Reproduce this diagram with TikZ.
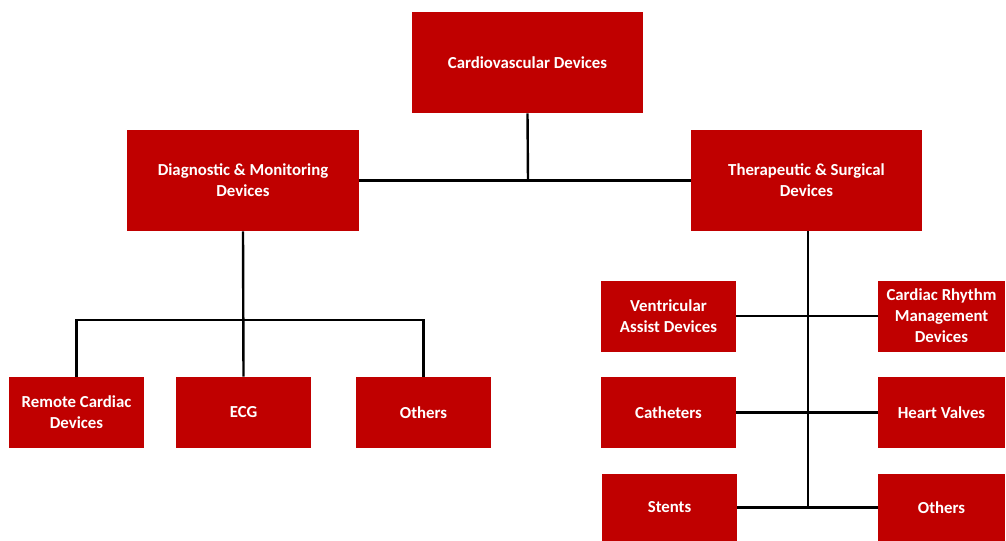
\documentclass[tikz,border=0pt]{standalone}
\usepackage{fontspec}
\setmainfont{Carlito}
\begin{document}
\begin{tikzpicture}[x=0.75pt,y=-0.75pt,
  box/.style={fill=boxred,draw=none,inner sep=0pt,text=white,align=center,
    font=\fontsize{12.6}{15.7}\selectfont\bfseries},
  conn/.style={draw=black,line width=1.8pt}]
\definecolor{boxred}{HTML}{C00000}
\useasboundingbox (0,0) rectangle (1006,540);
\fill[white] (0,0) rectangle (1006,540);
% top level
\node[box,minimum width=231*0.75pt,minimum height=101*0.75pt] (cv) at (527.5,62.5) {Cardiovascular Devices};
\node[box,minimum width=232*0.75pt,minimum height=101*0.75pt] (dm) at (243,180.5) {Diagnostic \& Monitoring\\Devices};
\node[box,minimum width=231*0.75pt,minimum height=101*0.75pt] (ts) at (806.5,180.5) {Therapeutic \& Surgical\\Devices};
% left children
\node[box,minimum width=135*0.75pt,minimum height=71*0.75pt] (rc) at (76.5,412.5) {Remote Cardiac\\Devices};
\node[box,minimum width=135*0.75pt,minimum height=71*0.75pt] (ecg) at (243.5,412.5) {ECG};
\node[box,minimum width=135*0.75pt,minimum height=71*0.75pt] (ol) at (423.5,412.5) {Others};
% right children
\node[box,minimum width=135*0.75pt,minimum height=71*0.75pt] (vad) at (668.5,316) {Ventricular\\Assist Devices};
\node[box,minimum width=127*0.75pt,minimum height=71*0.75pt] (crm) at (941.5,316) {Cardiac Rhythm\\Management\\Devices};
\node[box,minimum width=135*0.75pt,minimum height=71*0.75pt] (cat) at (668.5,412.5) {Catheters};
\node[box,minimum width=127*0.75pt,minimum height=71*0.75pt] (hv) at (941.5,412.5) {Heart Valves};
\node[box,minimum width=135*0.75pt,minimum height=67*0.75pt] (st) at (669.5,507.5) {Stents};
\node[box,minimum width=127*0.75pt,minimum height=67*0.75pt] (or) at (941.5,507.5) {Others};
% coordinates
\coordinate (j1) at (528,181);
\coordinate (lj) at (243,320);
\coordinate (rjb) at (808,509);
% connectors
\draw[conn] (cv.south) -- (j1);
\draw[conn] (dm.east) -- (ts.west);
\draw[conn] (dm.south) -- (ecg.north);
\draw[conn] (rc.north) |- (lj) -| (ol.north);
\draw[conn] (ts.south -| rjb) -- (rjb);
\draw[conn] (vad.east) -- (crm.west);
\draw[conn] (cat.east) -- (hv.west);
\draw[conn] (st.east) -- (or.west);
\end{tikzpicture}
\end{document}
